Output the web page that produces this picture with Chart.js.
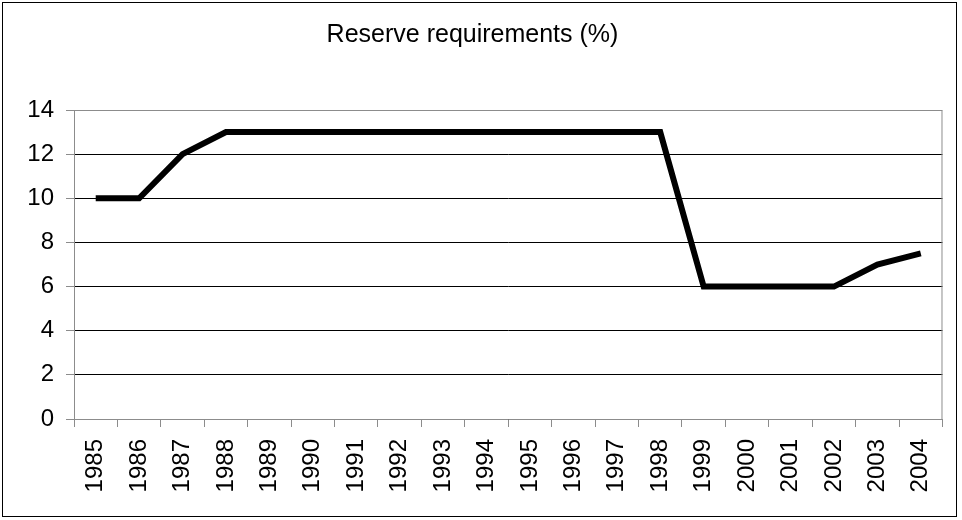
<!DOCTYPE html>
<html>
<head>
<meta charset="utf-8">
<script src="https://cdn.jsdelivr.net/npm/chart.js@4"></script>
<style>
    html, body { margin: 0; padding: 0; background: #fff; }
    #wrap { position: relative; width: 962px; height: 520px; }
    #frame { position: absolute; left: 2px; top: 2px; width: 955px; height: 515px; border: 1px solid #000; box-sizing: border-box; pointer-events: none; }
</style>
</head>
<body>
<div id="wrap">
    <canvas id="lineChart" width="962" height="520"></canvas>
    <div id="frame"></div>
</div>
<script>
const years = ['1985', '1986', '1987', '1988', '1989', '1990', '1991', '1992', '1993', '1994',
               '1995', '1996', '1997', '1998', '1999', '2000', '2001', '2002', '2003', '2004'];
const reserveReq = [10, 10, 12, 13, 13, 13, 13, 13, 13, 13,
                    13, 13, 13, 13, 6, 6, 6, 6, 7, 7.5];
const yTicks = [0, 2, 4, 6, 8, 10, 12, 14];

document.addEventListener('DOMContentLoaded', function () {
    const ctx = document.getElementById('lineChart').getContext('2d');
    const fontFamily = 'Liberation Sans, Arial, sans-serif';

    // grey box round the plot area, like the Excel original
    const plotFrame = {
        id: 'plotFrame',
        beforeDatasetsDraw(chart) {
            const a = chart.chartArea;
            const c = chart.ctx;
            c.save();
            c.strokeStyle = '#8c8c8c';
            c.lineWidth = 1;
            c.beginPath();
            c.moveTo(a.left, a.top + 0.5);
            c.lineTo(a.right - 0.5, a.top + 0.5);
            c.lineTo(a.right - 0.5, a.bottom);
            c.stroke();
            c.restore();
        }
    };

    new Chart(ctx, {
        type: 'line',
        data: {
            labels: years,
            datasets: [{
                label: 'Reserve requirements (%)',
                data: reserveReq,
                borderColor: '#000',
                borderWidth: 6,
                tension: 0,
                pointRadius: 0,
                fill: false
            }]
        },
        options: {
            responsive: false,
            animation: false,
            layout: { padding: { left: 0, right: 17, top: 0, bottom: 0 } },
            plugins: {
                legend: { display: false },
                tooltip: { enabled: false },
                title: {
                    display: true,
                    text: 'Reserve requirements (%)',
                    color: '#000',
                    font: { family: fontFamily, size: 25, weight: 'normal' },
                    padding: { top: 20, bottom: 60 }
                }
            },
            scales: {
                x: {
                    offset: true,
                    grid: {
                        offset: true,
                        drawOnChartArea: false,
                        drawTicks: true,
                        tickLength: 8,
                        color: '#8c8c8c'
                    },
                    border: { color: '#8c8c8c' },
                    ticks: {
                        color: '#000',
                        minRotation: 90,
                        maxRotation: 90,
                        autoSkip: false,
                        padding: 12,
                        font: { family: fontFamily, size: 24 }
                    },
                    afterFit(scale) { scale.height = 101; }
                },
                y: {
                    min: 0,
                    max: 14,
                    afterBuildTicks(scale) {
                        scale.ticks = yTicks.map(v => ({ value: v }));
                    },
                    grid: {
                        color: c2 => (c2.tick && c2.tick.value === 14) ? '#8c8c8c' : '#000',
                        tickColor: '#8c8c8c',
                        tickLength: 8
                    },
                    border: { color: '#8c8c8c' },
                    ticks: {
                        color: '#000',
                        padding: 12,
                        font: { family: fontFamily, size: 24 }
                    },
                    afterFit(scale) { scale.width = 74; }
                }
            }
        },
        plugins: [plotFrame]
    });
});
</script>
</body>
</html>
